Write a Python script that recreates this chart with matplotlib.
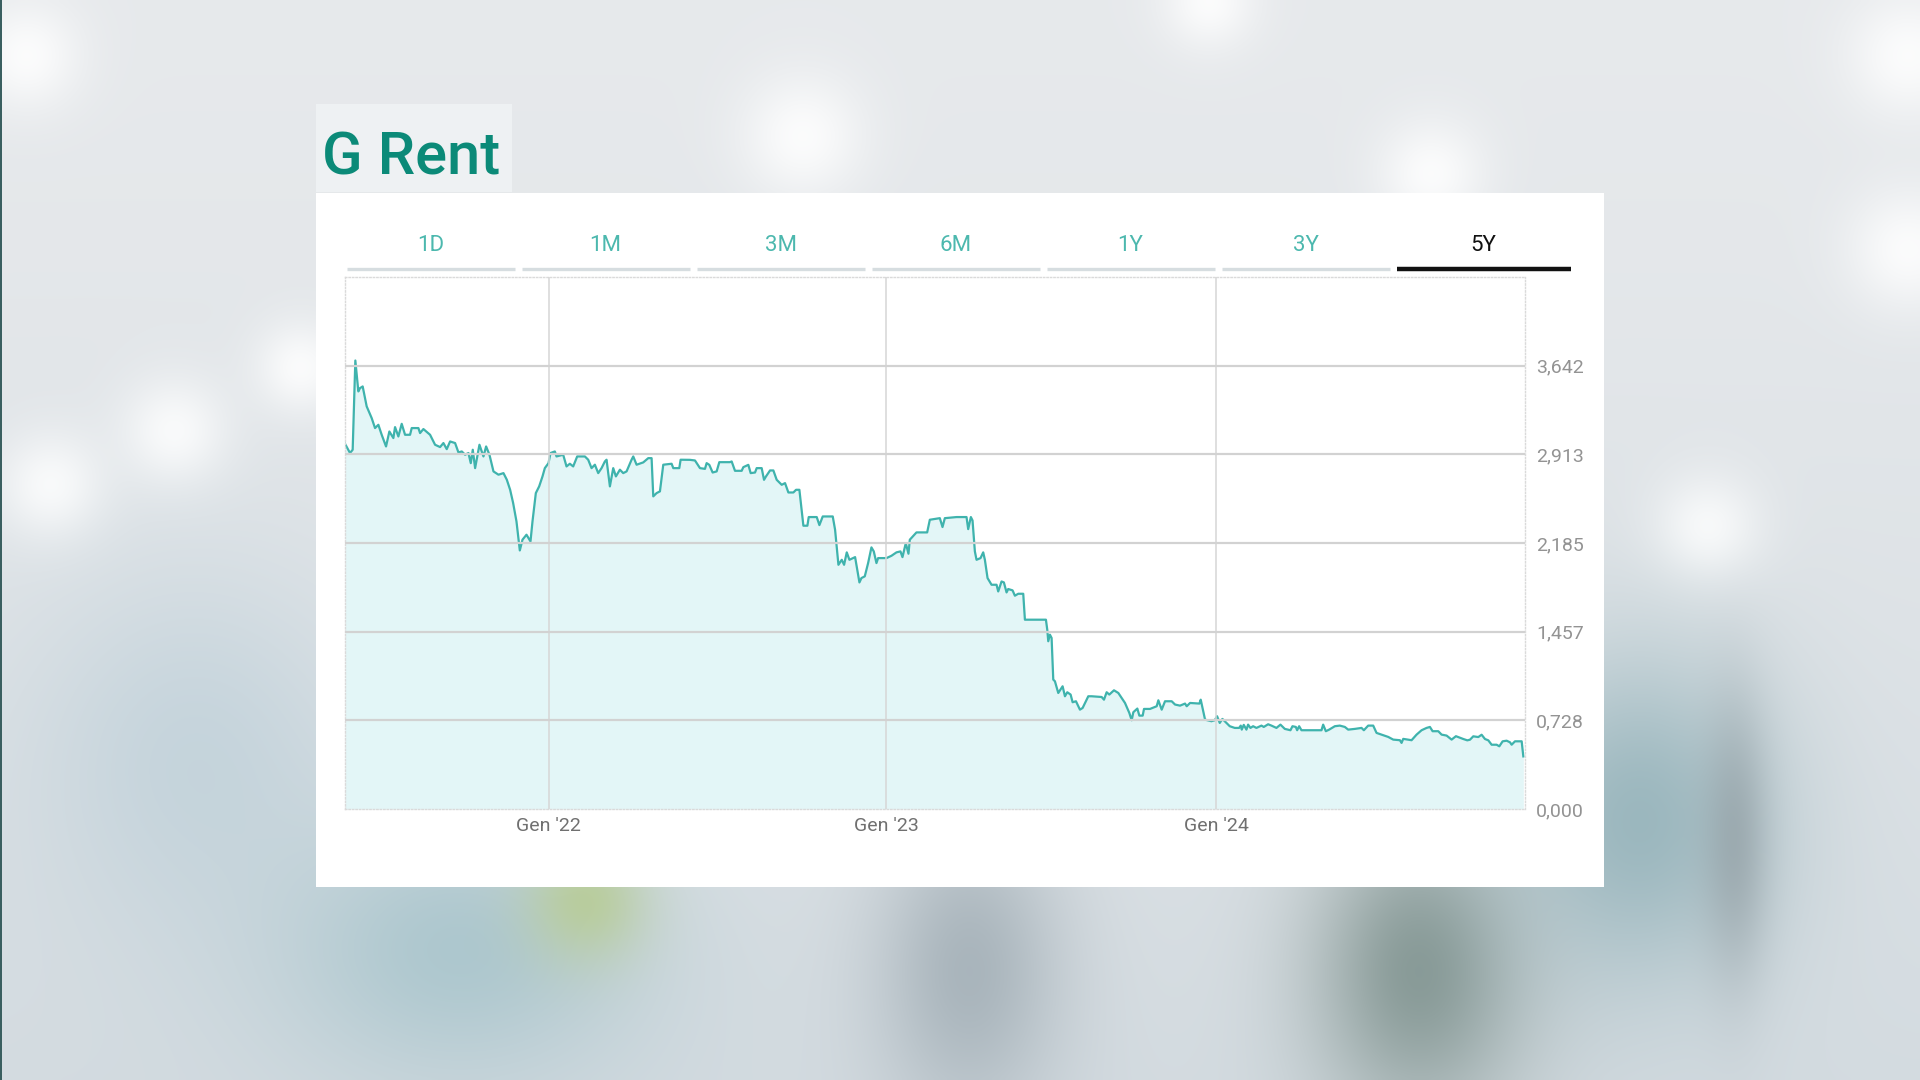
import matplotlib.pyplot as plt
import numpy as np
from matplotlib.patches import Rectangle
from matplotlib.lines import Line2D

# price series (x = fractional year)
years = [
    2021.389, 2021.404, 2021.412, 2021.420, 2021.429, 2021.434, 2021.442, 2021.454,
    2021.469, 2021.479, 2021.489, 2021.499, 2021.512, 2021.522, 2021.534, 2021.539,
    2021.549, 2021.559, 2021.569, 2021.584, 2021.589, 2021.609, 2021.614, 2021.624,
    2021.644, 2021.659, 2021.674, 2021.684, 2021.694, 2021.704, 2021.719, 2021.729,
    2021.739, 2021.749, 2021.759, 2021.766, 2021.772, 2021.779, 2021.792, 2021.804,
    2021.812, 2021.822, 2021.834, 2021.849, 2021.864, 2021.874, 2021.884, 2021.893,
    2021.903, 2021.913, 2021.921, 2021.933, 2021.945, 2021.951, 2021.961, 2021.971,
    2021.981, 2021.988, 2021.999, 2022.005, 2022.018, 2022.023, 2022.043, 2022.053,
    2022.063, 2022.073, 2022.085, 2022.108, 2022.118, 2022.128, 2022.138, 2022.148,
    2022.158, 2022.168, 2022.173, 2022.183, 2022.193, 2022.201, 2022.213, 2022.223,
    2022.233, 2022.248, 2022.253, 2022.263, 2022.283, 2022.298, 2022.308, 2022.313,
    2022.323, 2022.333, 2022.343, 2022.368, 2022.373, 2022.391, 2022.395,
    2022.423, 2022.438, 2022.453, 2022.468, 2022.473, 2022.481, 2022.491, 2022.503,
    2022.511, 2022.543, 2022.548, 2022.558, 2022.578, 2022.583, 2022.598, 2022.605,
    2022.618, 2022.623, 2022.638, 2022.645, 2022.651, 2022.663, 2022.673, 2022.683,
    2022.698, 2022.708, 2022.718, 2022.733, 2022.741, 2022.751, 2022.763, 2022.775,
    2022.779, 2022.803, 2022.811, 2022.821, 2022.851, 2022.858, 2022.868, 2022.878,
    2022.885, 2022.893, 2022.901, 2022.918, 2022.931, 2022.937, 2022.947, 2022.957,
    2022.967, 2022.974, 2022.982, 2022.987, 2023.012, 2023.027, 2023.042, 2023.054,
    2023.060, 2023.070, 2023.078, 2023.082, 2023.102, 2023.134, 2023.142, 2023.172,
    2023.180, 2023.187, 2023.222, 2023.252, 2023.257, 2023.265, 2023.270, 2023.277,
    2023.282, 2023.294, 2023.302, 2023.307, 2023.315, 2023.327, 2023.342, 2023.347,
    2023.357, 2023.364, 2023.372, 2023.377, 2023.390, 2023.397, 2023.407, 2023.422,
    2023.427, 2023.490,
    2023.494, 2023.497, 2023.502, 2023.507, 2023.512, 2023.517, 2023.527, 2023.540,
    2023.547, 2023.554, 2023.564, 2023.570, 2023.580, 2023.592, 2023.600, 2023.617,
    2023.627, 2023.657, 2023.664, 2023.672, 2023.680, 2023.694, 2023.707, 2023.727,
    2023.740, 2023.747, 2023.752, 2023.764, 2023.770, 2023.780, 2023.784, 2023.802,
    2023.822, 2023.827, 2023.837, 2023.847, 2023.867, 2023.877, 2023.892, 2023.907,
    2023.912, 2023.922, 2023.950, 2023.954, 2023.967, 2023.986, 2023.996, 2024.003,
    2024.011, 2024.019, 2024.031, 2024.041, 2024.056, 2024.069, 2024.074, 2024.077,
    2024.083, 2024.091, 2024.096, 2024.103, 2024.111, 2024.121, 2024.136, 2024.143,
    2024.156, 2024.166, 2024.181, 2024.193, 2024.206, 2024.223, 2024.229, 2024.239,
    2024.243, 2024.249, 2024.256, 2024.316, 2024.321, 2024.329, 2024.339, 2024.356,
    2024.371, 2024.386, 2024.396, 2024.416, 2024.436, 2024.443, 2024.456, 2024.471,
    2024.481, 2024.496, 2024.516, 2024.531, 2024.551, 2024.556, 2024.561, 2024.586,
    2024.601, 2024.616, 2024.631, 2024.641, 2024.649, 2024.666, 2024.676, 2024.691,
    2024.706, 2024.719,
    2024.741, 2024.753, 2024.761, 2024.771, 2024.786, 2024.796, 2024.806, 2024.816,
    2024.826, 2024.841, 2024.849, 2024.859, 2024.871, 2024.881, 2024.886, 2024.896,
    2024.916, 2024.921,
]
prices = [
    3.000, 2.924, 2.951, 3.684, 3.430, 3.457, 3.471, 3.307,
    3.211, 3.129, 3.156, 3.074, 2.978, 3.101, 3.047, 3.137,
    3.060, 3.164, 3.074, 3.074, 3.129, 3.129, 3.088, 3.121,
    3.074, 2.992, 2.973, 3.006, 2.956, 3.019, 3.006, 2.929,
    2.937, 2.910, 2.924, 2.841, 2.951, 2.800, 2.992, 2.896,
    2.978, 2.910, 2.773, 2.746, 2.759, 2.705, 2.622, 2.513,
    2.362, 2.124, 2.212, 2.253, 2.198, 2.362, 2.595, 2.650,
    2.732, 2.800, 2.841, 2.924, 2.937, 2.896, 2.910, 2.814,
    2.836, 2.814, 2.896, 2.896, 2.869, 2.800, 2.828, 2.759,
    2.800, 2.855, 2.869, 2.650, 2.800, 2.732, 2.787, 2.759,
    2.773, 2.869, 2.896, 2.828, 2.847, 2.882, 2.882, 2.568,
    2.595, 2.609, 2.828, 2.836, 2.800, 2.800, 2.869,
    2.868, 2.863, 2.800, 2.794, 2.841, 2.827, 2.764, 2.773,
    2.849, 2.849, 2.855, 2.778, 2.778, 2.808, 2.827, 2.759,
    2.764, 2.800, 2.800, 2.704, 2.732, 2.781, 2.781, 2.704,
    2.663, 2.677, 2.600, 2.600, 2.622, 2.622, 2.327, 2.327,
    2.398, 2.398, 2.332, 2.403, 2.403, 2.294, 2.006, 2.047,
    2.006, 2.108, 2.047, 2.069, 1.861, 1.897, 1.911, 2.020,
    2.149, 2.116, 2.020, 2.061, 2.061, 2.080, 2.108, 2.116,
    2.069, 2.184, 2.097, 2.212, 2.272, 2.272, 2.376, 2.389,
    2.316, 2.389, 2.398, 2.398, 2.299, 2.398, 2.370, 2.116,
    2.047, 2.061, 2.108, 2.047, 1.897, 1.842, 1.842, 1.787,
    1.869, 1.861, 1.779, 1.807, 1.796, 1.752, 1.768, 1.768,
    1.555, 1.555,
    1.473, 1.378, 1.432, 1.405, 1.063, 1.049, 0.953, 1.008,
    0.926, 0.959, 0.940, 0.877, 0.885, 0.816, 0.830, 0.926,
    0.926, 0.920, 0.898, 0.959, 0.940, 0.975, 0.953, 0.871,
    0.789, 0.729, 0.795, 0.825, 0.767, 0.767, 0.822, 0.822,
    0.844, 0.893, 0.816, 0.885, 0.885, 0.858, 0.849, 0.866,
    0.844, 0.871, 0.866, 0.898, 0.734, 0.721, 0.729, 0.762,
    0.707, 0.740, 0.707, 0.680, 0.666, 0.666, 0.685, 0.652,
    0.691, 0.652, 0.693, 0.666, 0.680, 0.666, 0.685, 0.674,
    0.696, 0.685, 0.666, 0.693, 0.658, 0.647, 0.680, 0.674,
    0.647, 0.680, 0.647, 0.647, 0.693, 0.639, 0.652, 0.680,
    0.685, 0.674, 0.652, 0.658, 0.666, 0.647, 0.685, 0.685,
    0.625, 0.611, 0.592, 0.570, 0.565, 0.543, 0.576, 0.565,
    0.611, 0.647, 0.666, 0.674, 0.639, 0.639, 0.611, 0.603,
    0.570, 0.598,
    0.575, 0.564, 0.569, 0.597, 0.591, 0.610, 0.575, 0.564,
    0.528, 0.528, 0.515, 0.556, 0.561, 0.548, 0.528, 0.556,
    0.556, 0.432,
]

ytick_vals = [0.0, 0.728, 1.457, 2.185, 2.913, 3.642]
ytick_labels = ['0,000', '0,728', '1,457', '2,185', '2,913', '3,642']
# the source axis is not quite calendar-linear, Gen '23 sits a little late
xtick_vals = [2022.0, 2023.012, 2024.0]
xtick_labels = ["Gen '22", "Gen '23", "Gen '24"]
tabs = ['1D', '1M', '3M', '6M', '1Y', '3Y', '5Y']

W, H = 1920, 1080
fig = plt.figure(figsize=(19.2, 10.8), dpi=100)
plt.rcParams['font.family'] = ['Roboto', 'DejaVu Sans']

# blurred photo background
yy, xx = np.mgrid[0:1:270j, 0:1:480j]
top = np.array([0.905, 0.915, 0.925])
bot = np.array([0.83, 0.86, 0.88])
bg = top + (bot - top) * (yy[..., None] ** 1.4)

def blob(img, cx, cy, rx, ry, col, a):
    g = np.exp(-((xx - cx) ** 2 / (2 * rx ** 2) + (yy - cy) ** 2 / (2 * ry ** 2)))[..., None] * a
    return img * (1 - g) + np.array(col) * g

for cx, cy, r in [(0.013, 0.05, 0.035), (0.418, 0.125, 0.04), (0.746, 0.16, 0.035),
                  (0.995, 0.05, 0.04), (0.995, 0.23, 0.04), (0.09, 0.40, 0.035),
                  (0.026, 0.45, 0.035), (0.156, 0.34, 0.03), (0.89, 0.49, 0.035),
                  (0.63, 0.0, 0.03)]:
    bg = blob(bg, cx, cy, r * 9 / 16, r, (1.0, 1.0, 1.0), 0.85)
bg = blob(bg, 0.10, 0.70, 0.06, 0.12, (0.72, 0.80, 0.84), 0.6)
bg = blob(bg, 0.24, 0.88, 0.07, 0.09, (0.64, 0.76, 0.79), 0.8)
bg = blob(bg, 0.305, 0.835, 0.022, 0.04, (0.72, 0.80, 0.58), 0.85)
bg = blob(bg, 0.505, 0.90, 0.035, 0.10, (0.62, 0.67, 0.70), 0.8)
bg = blob(bg, 0.74, 0.90, 0.04, 0.10, (0.46, 0.54, 0.52), 0.8)
bg = blob(bg, 0.855, 0.76, 0.05, 0.11, (0.55, 0.68, 0.71), 0.8)
bg = blob(bg, 0.905, 0.78, 0.012, 0.09, (0.52, 0.56, 0.58), 0.5)
bg = np.clip(bg, 0, 1)

bg_ax = fig.add_axes([0, 0, 1, 1], zorder=-10)
bg_ax.imshow(bg, extent=[0, 1, 0, 1], aspect='auto', interpolation='bicubic')
bg_ax.axis('off')
fig.patches.append(Rectangle((0, 0), 1.5 / W, 1, transform=fig.transFigure,
                             fc='#3a5f60', ec='none', zorder=-4))

# white card and title box
fig.patches.append(Rectangle((316 / W, 1 - 887 / H), 1288 / W, 694 / H,
                             transform=fig.transFigure, fc='white', ec='none', zorder=-5))
fig.patches.append(Rectangle((316 / W, 1 - 192 / H), 196 / W, 88 / H,
                             transform=fig.transFigure, fc='#eef1f3', ec='none', zorder=-5))
fig.text(322 / W, 1 - 175 / H, 'G Rent', fontsize=43, fontweight='medium',
         color='#0b8a78', va='baseline', ha='left')

# period tabs
for i, lab in enumerate(tabs):
    x0 = 346.5 + i * 175
    active = lab == '5Y'
    x1 = x0 + (174 if active else 168)
    fig.text((x0 + x1) / 2 / W, 1 - 245.5 / H, lab, fontsize=16, ha='center', va='center',
             color='#111111' if active else '#4cb8ae')
    fig.lines.append(Line2D([x0 / W, x1 / W], [1 - 269 / H] * 2, transform=fig.transFigure,
                            color='#111111' if active else '#d6dde0',
                            lw=3.2 if active else 2.4, solid_capstyle='butt'))

# chart
ax = fig.add_axes([345 / W, 1 - 809 / H, 1180 / W, 532 / H])
ax.fill_between(years, prices, 0, color='#e3f6f7', lw=0)
ax.plot(years, prices, color='#3fb3ad', lw=1.6)
ax.set_xlim(2021.389, 2024.926)
ax.set_ylim(0, 4.37)
ax.set_yticks(ytick_vals)
ax.set_yticklabels(ytick_labels)
ax.set_xticks(xtick_vals)
ax.set_xticklabels(xtick_labels)
ax.yaxis.tick_right()
ax.tick_params(length=0, labelsize=14)
ax.tick_params(axis='y', pad=8, labelcolor='#939393')
ax.tick_params(axis='x', pad=6, labelcolor='#707070')
ax.yaxis.grid(True, color='#d2d2d2', lw=1.6)
ax.xaxis.grid(True, color='#d6d6d6', lw=1.1)
ax.yaxis.get_gridlines()[0].set_visible(False)
ax.set_axisbelow(False)
for sp in ax.spines.values():
    sp.set_color('#dadada')
    sp.set_linewidth(1)
    sp.set_linestyle((0, (1, 1.5)))
ax.set_facecolor('none')

fig.savefig('out.png', dpi=100)
